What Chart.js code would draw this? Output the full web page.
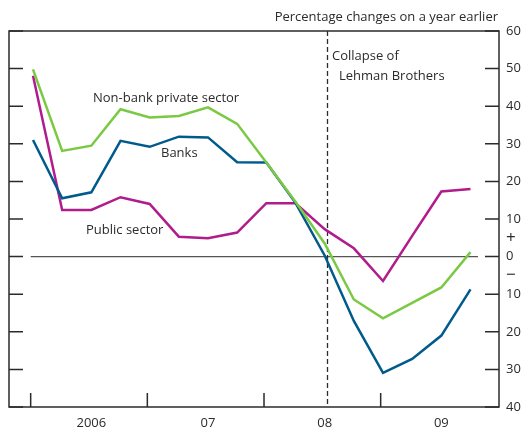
<!DOCTYPE html>
<html>
<head>
<meta charset="utf-8">
<script src="https://cdn.jsdelivr.net/npm/chart.js@4/dist/chart.umd.min.js"></script>
<style>
  html, body { margin: 0; padding: 0; background: #fff; }
  canvas { display: block; }
</style>
</head>
<body>
<canvas id="chart" width="524" height="429"></canvas>
<script>
// Quarterly, percentage changes on a year earlier
const quarters = [
    '2006 Q1', '2006 Q2', '2006 Q3', '2006 Q4',
    '2007 Q1', '2007 Q2', '2007 Q3', '2007 Q4',
    '2008 Q1', '2008 Q2', '2008 Q3', '2008 Q4',
    '2009 Q1', '2009 Q2', '2009 Q3', '2009 Q4'
];
const nonBank = [49.8, 28.1, 29.5, 39.2, 37.0, 37.4, 39.7, 35.3, 25.0, 14.6, 3.5, -11.4, -16.4, -12.3, -8.2, 1.2];
const banks = [31.0, 15.5, 17.1, 30.8, 29.2, 31.9, 31.7, 25.1, 25.0, 14.3, 0.3, -17.1, -30.9, -27.2, -21.0, -8.7];
const publicSector = [48.1, 12.4, 12.4, 15.8, 14.0, 5.3, 4.9, 6.4, 14.2, 14.2, 7.3, 2.2, -6.5, 5.5, 17.3, 18.0];

const yearLabels = ['2006', '07', '08', '09'];
const yearLabelPos = [2, 6, 10, 14];
const yearTickPos = [-0.08, 3.92, 7.92, 11.92];
const yTickValues = [-40, -30, -20, -10, -5, 0, 5, 10, 20, 30, 40, 50, 60];
const lehmanPos = 10.08;

const FAMILY = '"Open Sans", "Noto Sans", sans-serif';
const FONT = '13px ' + FAMILY;
const INK = '#2b2b2b';

const toPoints = arr => arr.map((y, i) => ({ x: i, y }));

const decorPlugin = {
    id: 'decor',
    beforeDatasetsDraw(chart) {
        const { ctx, chartArea: a, scales: { x, y } } = chart;
        ctx.save();
        // zero line
        const y0 = y.getPixelForValue(0);
        ctx.strokeStyle = '#555555';
        ctx.lineWidth = 1.3;
        ctx.beginPath();
        ctx.moveTo(x.getPixelForValue(yearTickPos[0]), y0);
        ctx.lineTo(a.right - 21, y0);
        ctx.stroke();
        // Lehman line
        const xl = Math.round(x.getPixelForValue(lehmanPos)) + 0.5;
        ctx.strokeStyle = INK;
        ctx.lineWidth = 1.3;
        ctx.setLineDash([5, 3]);
        ctx.beginPath();
        ctx.moveTo(xl, a.top);
        ctx.lineTo(xl, a.bottom);
        ctx.stroke();
        ctx.restore();
    },
    afterDraw(chart) {
        const { ctx, chartArea: a, scales: { x, y } } = chart;
        ctx.save();
        ctx.strokeStyle = INK;
        ctx.lineWidth = 1.5;
        ctx.strokeRect(a.left, a.top, a.right - a.left, a.bottom - a.top);

        // inner tick marks
        ctx.beginPath();
        yTickValues.filter(v => v % 10 === 0).forEach(v => {
            const py = y.getPixelForValue(v);
            ctx.moveTo(a.left, py); ctx.lineTo(a.left + 14, py);
            ctx.moveTo(a.right - 14, py); ctx.lineTo(a.right, py);
        });
        yearTickPos.forEach(v => {
            const px = x.getPixelForValue(v);
            ctx.moveTo(px, a.bottom); ctx.lineTo(px, a.bottom - 14);
        });
        ctx.stroke();

        // text
        ctx.fillStyle = INK;
        ctx.font = FONT;
        ctx.textBaseline = 'middle';
        ctx.textAlign = 'right';
        ctx.fillText('Percentage changes on a year earlier', a.right - 1, 17);
        ctx.textAlign = 'left';
        ctx.fillText('Non-bank private sector', 93, 98);
        ctx.fillText('Banks', 161, 153);
        ctx.fillText('Public sector', 86, 230);
        ctx.fillText('Collapse of', 332, 56);
        ctx.fillText('Lehman Brothers', 339, 76);
        ctx.restore();
    }
};

const lineStyle = { borderWidth: 2.5, pointRadius: 0, tension: 0, fill: false };

new Chart(document.getElementById('chart'), {
    type: 'line',
    data: {
        datasets: [
            { label: 'Non-bank private sector', data: toPoints(nonBank), borderColor: '#7ac943', ...lineStyle },
            { label: 'Banks', data: toPoints(banks), borderColor: '#005a8c', ...lineStyle },
            { label: 'Public sector', data: toPoints(publicSector), borderColor: '#b01c8c', ...lineStyle }
        ]
    },
    options: {
        responsive: false,
        devicePixelRatio: 1,
        animation: false,
        layout: { padding: { left: 9, top: 31, right: 0, bottom: 0 } },
        plugins: { legend: { display: false }, tooltip: { enabled: false } },
        scales: {
            x: {
                type: 'linear',
                min: -0.823,
                max: 15.977,
                grid: { display: false, drawTicks: false },
                border: { display: false },
                afterBuildTicks: scale => { scale.ticks = yearLabelPos.map(v => ({ value: v })); },
                afterFit: scale => { scale.height = 22; },
                ticks: {
                    color: INK,
                    font: { family: FAMILY, size: 13 },
                    padding: 8,
                    maxRotation: 0,
                    autoSkip: false,
                    callback: v => yearLabels[yearLabelPos.indexOf(v)]
                }
            },
            y: {
                position: 'right',
                min: -40,
                max: 60,
                grid: { display: false, drawTicks: false },
                border: { display: false },
                afterBuildTicks: scale => { scale.ticks = yTickValues.map(v => ({ value: v })); },
                afterFit: scale => { scale.width = 25; },
                ticks: {
                    color: INK,
                    font: c => ({
                        family: FAMILY,
                        size: (c.tick && Math.abs(c.tick.value) === 5) ? 17 : 13
                    }),
                    padding: 7,
                    autoSkip: false,
                    callback: v => v === 5 ? '+' : v === -5 ? '\u2212' : String(Math.abs(v))
                }
            }
        }
    },
    plugins: [decorPlugin]
});
</script>
</body>
</html>
